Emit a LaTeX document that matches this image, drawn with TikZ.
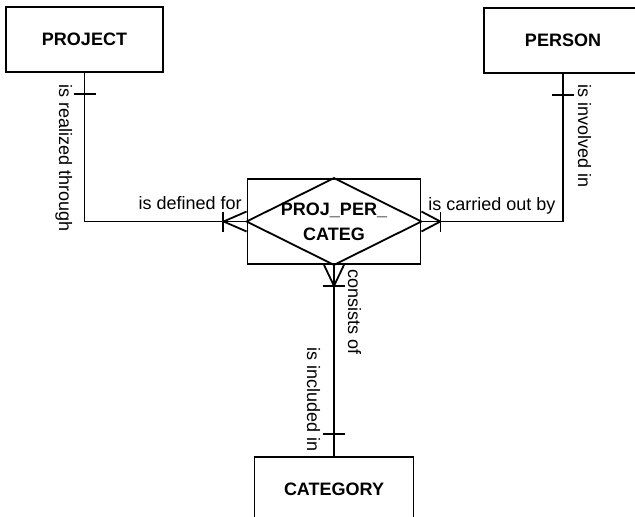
\documentclass[tikz,border=0pt]{standalone}
\usepackage{fontspec}
\setmainfont{Liberation Sans}
\usetikzlibrary{positioning,calc}

\begin{document}
\begin{tikzpicture}[
  x=1pt, y=-1pt,
  line width=1.8pt,
  line join=miter,
  every node/.style={font=\fontsize{18}{21}\selectfont},
  entity/.style={draw,rectangle,minimum width=157pt,minimum height=65pt,font=\fontsize{18}{21}\selectfont\bfseries},
  relship/.style={draw,rectangle,minimum width=173pt,minimum height=85pt,inner sep=0pt,align=center,font=\fontsize{18}{25}\selectfont\bfseries},
  role/.style={inner sep=0pt},
  vrole/.style={inner sep=0pt,rotate=-90}
]%
  \useasboundingbox (0,0) rectangle (635,517);
  \clip (0,0) rectangle (635,517);

  \node[entity] (project) at (84.5,39.5) {PROJECT};
  \node[entity,minimum width=158pt] (person) at (563,40.5) {PERSON};
  \node[relship] (rel) at (334,221.5) {PROJ\_PER\_\\CATEG};
  \node[entity,minimum width=159pt] (category) at (334,489.5) {CATEGORY};
  \draw (rel.north) -- (rel.east) -- (rel.south) -- (rel.west) -- cycle;

  \draw (project.south) |- (rel.west);
  \draw (rel.east) -| (person.south);
  \draw (rel.south) -- (category.north);

  % one side
  \draw ($(project.south)+(-11,21)$) -- ++(22,0);
  \draw ($(person.south)+(-11,21)$) -- ++(22,0);
  \draw ($(category.north)+(-11,-22)$) -- ++(22,0);

  % many side
  \draw ($(rel.west)+(0,-10)$) -- ($(rel.west)+(-23,0)$) -- ($(rel.west)+(0,10)$);
  \draw ($(rel.west)+(-24,-10)$) -- ++(0,20);
  \draw ($(rel.east)+(0,-10)$) -- ($(rel.east)+(19,0)$) -- ($(rel.east)+(0,10)$);
  \draw ($(rel.east)+(19,-10)$) -- ++(0,20);
  \draw ($(rel.south)+(-10,0)$) -- ($(rel.south)+(0,21)$) -- ($(rel.south)+(10,0)$);
  \draw ($(rel.south)+(-11,21)$) -- ++(22,0);

  \node[role,anchor=base east] (lblfor) at ($(rel.west)+(-4,-12.5)$) {is defined for};
  \node[role,anchor=base west] (lblby) at ($(rel.east)+(6,-11.5)$) {is carried out by};
  \node[vrole,anchor=base west] (lblthrough) at ($(project.south)+(-25.5,11)$) {is realized through};
  \node[vrole,anchor=base west] (lblin) at ($(person.south)+(15,10)$) {is involved in};
  \node[vrole,anchor=base west] (lblof) at ($(rel.south)+(14,4)$) {consists of};
  \node[vrole,anchor=base east] (lblincl) at ($(category.north)+(-27,-4)$) {is included in};
\end{tikzpicture}
\end{document}
